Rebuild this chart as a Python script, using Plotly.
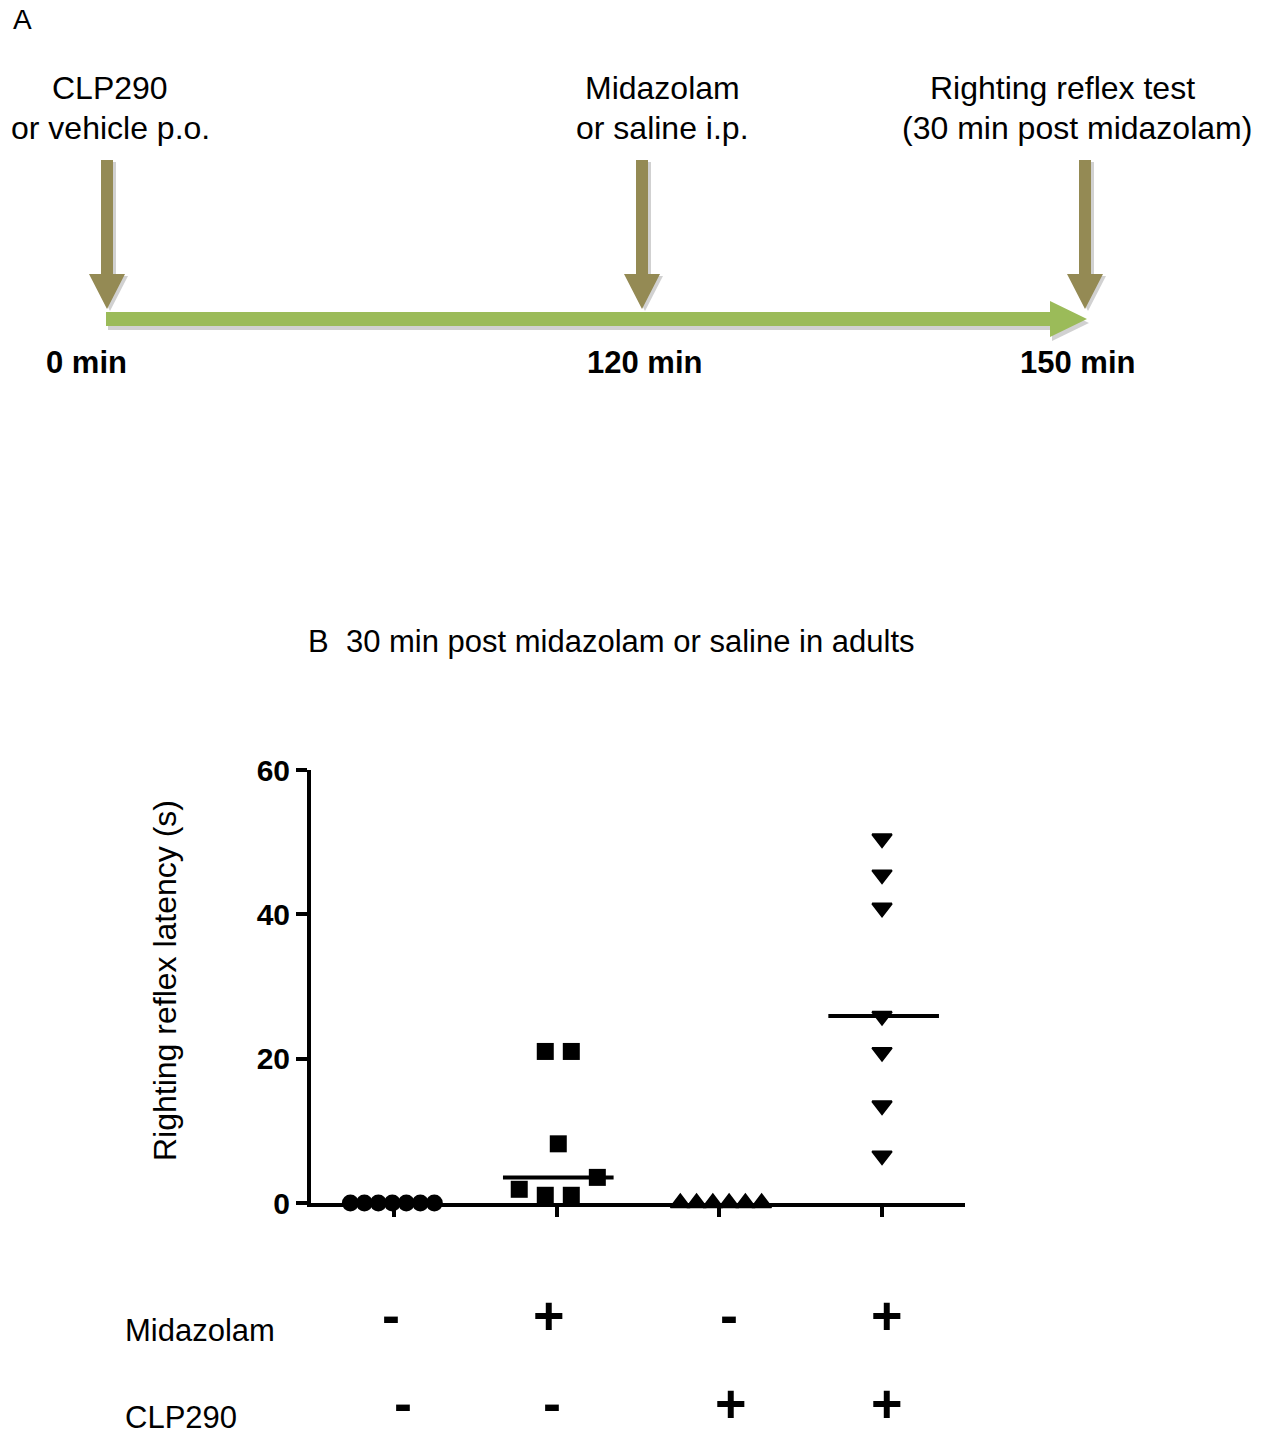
import numpy as np
import plotly.graph_objects as go

# ---------------- data ----------------
groups = [1, 2, 3, 4]
saline_vehicle = [0, 0, 0, 0, 0, 0, 0]                      # circles
midazolam_vehicle = [21.0, 21.0, 8.2, 3.55, 1.9, 1.07, 1.07]  # squares
midazolam_vehicle_slots = [-0.5, 0.5, 0, 1.5, -1.5, -0.5, 0.5]
saline_clp290 = [0, 0, 0, 0, 0, 0]                           # triangles up
midazolam_clp290 = [50.5, 45.5, 40.9, 25.9, 20.9, 13.5, 6.55]  # triangles down

midazolam_signs = ["-", "+", "-", "+"]
clp290_signs = ["-", "-", "+", "+"]
y_ticks = [0, 20, 40, 60]
timeline_labels = ["0 min", "120 min", "150 min"]
event_top = ["CLP290", "Midazolam", "Righting reflex test"]
event_bottom = ["or vehicle p.o.", "or saline i.p.", "(30 min post midazolam)"]

FONT = "Liberation Sans, Arial, sans-serif"
W, H = 1270, 1435

fig = go.Figure()

def row_x(center, n, step):
    return [center + (i - (n - 1) / 2) * step for i in range(n)]

# circles
fig.add_trace(go.Scatter(
    x=row_x(groups[0] - 0.01, len(saline_vehicle), 0.086), y=saline_vehicle,
    mode="markers", marker=dict(symbol="circle", size=17, color="black"),
    cliponaxis=False, xaxis="x", yaxis="y"))
# squares
fig.add_trace(go.Scatter(
    x=[groups[1] + 0.01 + s * 0.16 for s in midazolam_vehicle_slots], y=midazolam_vehicle,
    mode="markers", marker=dict(symbol="square", size=17, color="black"),
    cliponaxis=False, xaxis="x", yaxis="y"))
# triangles up
fig.add_trace(go.Scatter(
    x=row_x(groups[2] + 0.01, len(saline_clp290), 0.1), y=saline_clp290,
    mode="markers", marker=dict(symbol="triangle-up", size=17, color="black",
                                line=dict(color="black", width=2)),
    cliponaxis=False, xaxis="x", yaxis="y"))
# triangles down
fig.add_trace(go.Scatter(
    x=[groups[3]] * len(midazolam_clp290), y=midazolam_clp290,
    mode="markers", marker=dict(symbol="triangle-down", size=17, color="black",
                                line=dict(color="black", width=2)),
    cliponaxis=False, xaxis="x", yaxis="y"))

# median lines
for g, vals in [(groups[1], midazolam_vehicle), (groups[3], midazolam_clp290)]:
    m = float(np.median(vals))
    fig.add_trace(go.Scatter(
        x=[g - 0.33, g + 0.35], y=[m, m], mode="lines",
        line=dict(color="black", width=4), cliponaxis=False,
        xaxis="x", yaxis="y"))

# ---------------- axes ----------------
fig.update_layout(
    width=W, height=H,
    margin=dict(l=0, r=0, t=0, b=0, pad=0, autoexpand=False),
    paper_bgcolor="white", plot_bgcolor="rgba(0,0,0,0)",
    showlegend=False,
    font=dict(family=FONT, color="black"),
    xaxis=dict(domain=[311 / W, 965 / W], range=[0.49, 4.51],
               showgrid=False, zeroline=False, showline=True, linewidth=4,
               linecolor="black", ticks="outside", ticklen=10, tickwidth=3.5,
               tickcolor="black", tickvals=groups, showticklabels=False,
               anchor="y"),
    yaxis=dict(domain=[1 - 1203 / H, 1 - 770 / H], range=[0, 60],
               showgrid=False, zeroline=False, showline=True, linewidth=4,
               linecolor="black", ticks="outside", ticklen=11, tickwidth=3.5,
               tickcolor="black", tickvals=y_ticks,
               tickfont=dict(family=FONT, size=30, weight="bold", color="black"),
               anchor="x"),
    xaxis2=dict(domain=[0, 1], range=[0, W], visible=False, anchor="y2",
                fixedrange=True),
    yaxis2=dict(domain=[0, 1], range=[H, 0], visible=False, anchor="x2",
                fixedrange=True),
)

shapes = []
ann = []

# ---------------- Panel A schematic ----------------
BROWN = "#948A54"
GREEN = "#9BBB59"
SHADOW = "rgba(90,90,90,0.28)"
arrow_x = [107, 642, 1085]

def down_arrow(cx, dx=0, dy=0):
    cx += dx
    return (f"M {cx-6},{160+dy} L {cx+6},{160+dy} L {cx+6},{274+dy} L {cx+18},{274+dy} "
            f"L {cx},{309+dy} L {cx-18},{274+dy} L {cx-6},{274+dy} Z")

def green_path(dx=0, dy=0):
    return (f"M {106+dx},{312+dy} L {1050+dx},{312+dy} L {1050+dx},{301+dy} L {1087+dx},{319+dy} "
            f"L {1050+dx},{337+dy} L {1050+dx},{326+dy} L {106+dx},{326+dy} Z")

shapes.append(dict(type="path", path=green_path(2, 4), xref="x2", yref="y2",
                   fillcolor=SHADOW, line=dict(width=0), layer="below"))
shapes.append(dict(type="path", path=green_path(), xref="x2", yref="y2",
                   fillcolor=GREEN, line=dict(width=0)))
for cx in arrow_x:
    shapes.append(dict(type="path", path=down_arrow(cx, 3, 2), xref="x2", yref="y2",
                       fillcolor=SHADOW, line=dict(width=0)))
    shapes.append(dict(type="path", path=down_arrow(cx), xref="x2", yref="y2",
                       fillcolor=BROWN, line=dict(width=0)))

def text(x, y, s, size, bold=False, xanchor="center", yanchor="middle", angle=0,
         height=None):
    d = dict(x=x, y=y, xref="x2", yref="y2", text=s, showarrow=False,
             xanchor=xanchor, yanchor=yanchor, textangle=angle,
             font=dict(family=FONT, size=size, color="black",
                       weight="bold" if bold else "normal"))
    if height is not None:
        d["height"] = height
    ann.append(d)

text(11, 19, "A", 28, xanchor="left")
top_cx = [110, 662, 1062]
bot_cx = [110, 662, 1077]
for i in range(3):
    text(top_cx[i], 88, event_top[i], 32)
    text(bot_cx[i], 128, event_bottom[i], 32)
label_cx = [86, 644, 1077]
for i, s in enumerate(timeline_labels):
    text(label_cx[i], 362, s, 31, bold=True)

# ---------------- Panel B texts ----------------
text(611, 641, "B  30 min post midazolam or saline in adults", 31)
text(165, 981, "Righting reflex latency (s)", 32, angle=-90)
text(123, 1330, "Midazolam", 31, xanchor="left")
text(123, 1417, "CLP290", 31, xanchor="left", height=30)
mid_x = [391, 549, 729, 887]
clp_x = [403, 552, 731, 887]
for i in range(4):
    text(mid_x[i], 1315, midazolam_signs[i], 54, bold=True, height=50)
    text(clp_x[i], 1403, clp290_signs[i], 54, bold=True, height=50)

fig.update_layout(shapes=shapes, annotations=ann)

fig.write_html("out.html")
